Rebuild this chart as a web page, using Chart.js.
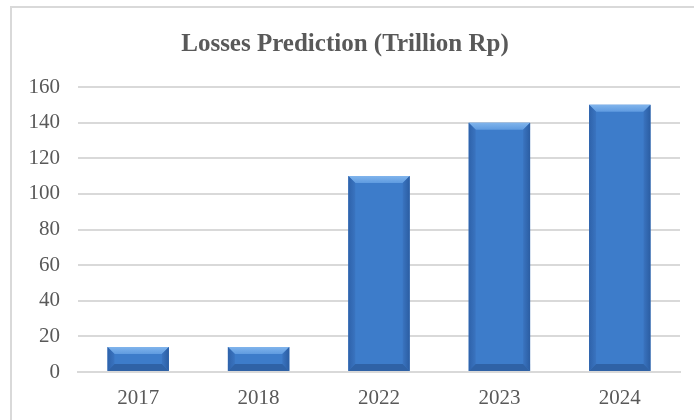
<!DOCTYPE html>
<html>
<head>
<meta charset="utf-8">
<script src="https://cdn.jsdelivr.net/npm/chart.js@4.4.0/dist/chart.umd.min.js"></script>
<style>
  html, body { margin: 0; padding: 0; background: #fff; }
  #wrap { position: relative; width: 694px; height: 420px; overflow: hidden; }
  #frame { position: absolute; left: 10px; top: 6px; width: 700px; height: 430px;
           border-top: 2px solid #d9d9d9; border-left: 2px solid #d9d9d9; }
  #lossChart { position: absolute; left: 0; top: 0; }
</style>
</head>
<body>
<div id="wrap">
  <div id="frame"></div>
  <canvas id="lossChart" width="694" height="420"></canvas>
</div>
<script>
const years = ['2017', '2018', '2022', '2023', '2024'];
const losses = [14, 14, 110, 140, 150];
const yTicks = [0, 20, 40, 60, 80, 100, 120, 140, 160];

// bevel look on each bar, drawn over the library's bar elements
const bevelBars = {
  id: 'bevelBars',
  afterDatasetsDraw(chart) {
    const ctx = chart.ctx;
    chart.getDatasetMeta(0).data.forEach(bar => {
      const left = bar.x - bar.width / 2;
      const right = bar.x + bar.width / 2;
      const top = bar.y;
      const bottom = bar.base;
      const b = Math.min(7, (bottom - top) / 3);
      ctx.save();
      // top bevel
      let g = ctx.createLinearGradient(0, top, 0, top + b);
      g.addColorStop(0, '#80b4ec');
      g.addColorStop(1, '#5f9be0');
      ctx.fillStyle = g;
      ctx.beginPath();
      ctx.moveTo(left, top); ctx.lineTo(right, top);
      ctx.lineTo(right - b, top + b); ctx.lineTo(left + b, top + b);
      ctx.fill();
      // left bevel
      g = ctx.createLinearGradient(left, 0, left + b, 0);
      g.addColorStop(0, '#2e62aa');
      g.addColorStop(1, '#3a74c0');
      ctx.fillStyle = g;
      ctx.beginPath();
      ctx.moveTo(left, top); ctx.lineTo(left + b, top + b);
      ctx.lineTo(left + b, bottom - b); ctx.lineTo(left, bottom);
      ctx.fill();
      // right bevel
      g = ctx.createLinearGradient(right - b, 0, right, 0);
      g.addColorStop(0, '#3a74c0');
      g.addColorStop(1, '#2b5da2');
      ctx.fillStyle = g;
      ctx.beginPath();
      ctx.moveTo(right, top); ctx.lineTo(right - b, top + b);
      ctx.lineTo(right - b, bottom - b); ctx.lineTo(right, bottom);
      ctx.fill();
      // bottom bevel
      ctx.fillStyle = '#2f62a6';
      ctx.beginPath();
      ctx.moveTo(left, bottom); ctx.lineTo(left + b, bottom - b);
      ctx.lineTo(right - b, bottom - b); ctx.lineTo(right, bottom);
      ctx.fill();
      ctx.restore();
    });
  }
};

const ctx = document.getElementById('lossChart').getContext('2d');
new Chart(ctx, {
  type: 'bar',
  data: {
    labels: years,
    datasets: [{
      data: losses,
      backgroundColor: '#3d7cca',
      borderWidth: 0,
      categoryPercentage: 1,
      barPercentage: 0.51
    }]
  },
  options: {
    responsive: false,
    animation: false,
    layout: { padding: { left: 10, right: 14, top: 0, bottom: 10 } },
    plugins: {
      legend: { display: false },
      tooltip: { enabled: false },
      title: {
        display: true,
        text: 'Losses Prediction (Trillion Rp)',
        color: '#595959',
        font: { family: 'Liberation Serif', size: 25, weight: 'bold' },
        padding: { top: 30, bottom: 27 }
      }
    },
    scales: {
      x: {
        afterFit: s => { s.height = 38; },
        grid: { display: false, drawTicks: false },
        border: { display: true, color: '#d9d9d9', width: 2 },
        ticks: {
          color: '#595959',
          padding: 14,
          maxRotation: 0,
          font: { family: 'Liberation Serif', size: 21 }
        }
      },
      y: {
        min: 0,
        max: 160,
        afterBuildTicks: s => { s.ticks = yTicks.map(v => ({ value: v })); },
        afterFit: s => { s.width = 68; },
        grid: { color: '#d9d9d9', lineWidth: 2, drawTicks: false },
        border: { display: false },
        ticks: {
          color: '#595959',
          padding: 18,
          font: { family: 'Liberation Serif', size: 21 }
        }
      }
    }
  },
  plugins: [bevelBars]
});
</script>
</body>
</html>
